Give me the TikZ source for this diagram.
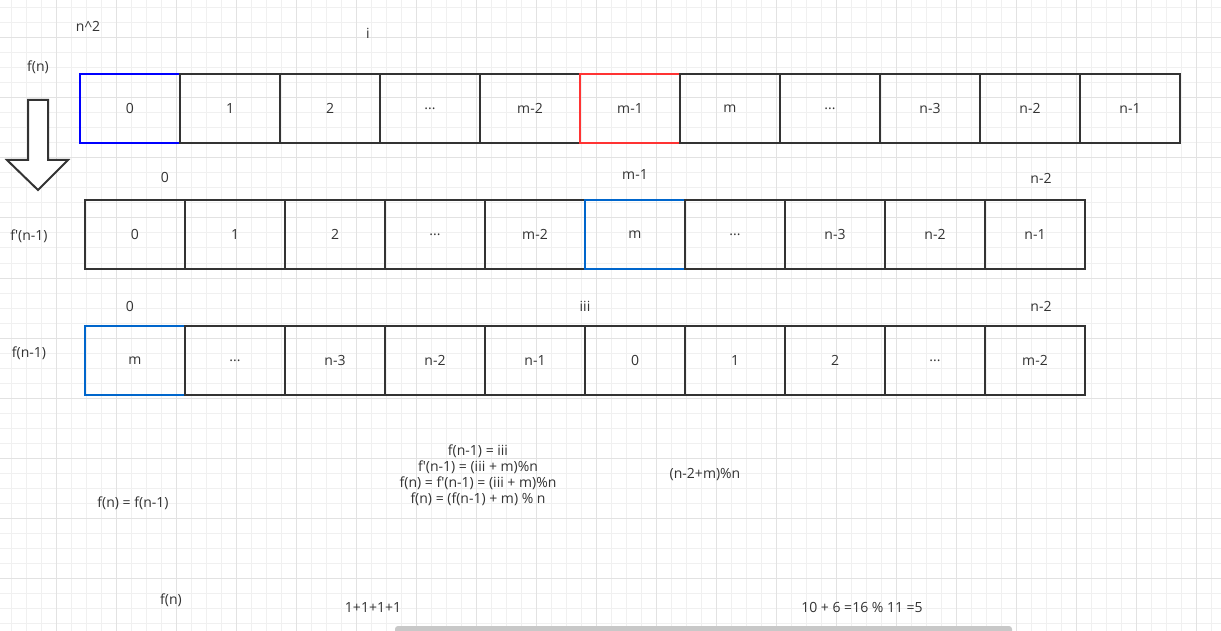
\documentclass[tikz,border=0pt]{standalone}
\usepackage{fontspec}
\setmainfont{Open Sans}
\usetikzlibrary{positioning}
\definecolor{ink}{HTML}{333333}
\definecolor{gridminor}{HTML}{F0F0F0}
\definecolor{gridmajor}{HTML}{E2E2E2}
\definecolor{hlblue}{HTML}{0000FF}
\definecolor{hlsky}{HTML}{0066CC}
\definecolor{hlred}{HTML}{FF3333}
\definecolor{scroll}{HTML}{C8C8C8}
\tikzset{
  cell/.style={draw=ink, line width=2pt, minimum width=100pt, minimum height=69pt,
    inner sep=0pt, outer sep=0pt, text=ink, font=\fontsize{14}{16}\selectfont},
  lbl/.style={text=ink, inner sep=0pt, font=\fontsize{14}{16}\selectfont},
}

\begin{document}
\begin{tikzpicture}[x=1pt, y=-1pt]

\useasboundingbox (0,0) rectangle (1221,631);
\fill[white] (0,0) rectangle (1221,631);

% ======================================
% GRID
% ======================================
\foreach \x in {11,26,...,1221} \draw[gridminor, line width=1pt] (\x,0) -- (\x,631);
\foreach \y in {8,23,...,631} \draw[gridminor, line width=1pt] (0,\y) -- (1221,\y);
\foreach \x in {56,116,...,1221} \draw[gridmajor, line width=1pt] (\x,0) -- (\x,631);
\foreach \y in {38,98,...,631} \draw[gridmajor, line width=1pt] (0,\y) -- (1221,\y);

% ======================================
% ROW 1: f(n)
% ======================================
\node[cell, draw=hlblue] (a0) at (130,108.5) {0};
\node[cell, right=0pt of a0] (a1) {1};
\node[cell, right=0pt of a1] (a2) {2};
\node[cell, right=0pt of a2] (a3) {...};
\node[cell, right=0pt of a3] (a4) {m-2};
\node[cell, draw=hlred, right=0pt of a4] (a5) {m-1};
\node[cell, right=0pt of a5] (a6) {m};
\node[cell, right=0pt of a6] (a7) {...};
\node[cell, right=0pt of a7] (a8) {n-3};
\node[cell, right=0pt of a8] (a9) {n-2};
\node[cell, right=0pt of a9] (a10) {n-1};

\node[lbl] (nsq) at (88,26) {n\textasciicircum 2};
\node[lbl] (idx) at (368,33) {i};
\node[lbl] (fn) at (38,67) {f(n)};

% the hollow down arrow
\draw[ink, line width=2pt, fill=white] (28,100) -- (48,100) -- (48,160) -- (68,160)
  -- (38,190) -- (7,160) -- (28,160) -- cycle;

% ======================================
% ROW 2: f'(n-1)
% ======================================
\node[lbl] (bz) at (165,177) {0};
\node[lbl] (bm) at (635,175) {m-1};
\node[lbl] (bn) at (1041,178) {n-2};
\node[lbl] (fpn) at (29,236) {f\textquotesingle(n-1)};

\node[cell] (b0) at (135,234.5) {0};
\node[cell, right=0pt of b0] (b1) {1};
\node[cell, right=0pt of b1] (b2) {2};
\node[cell, right=0pt of b2] (b3) {...};
\node[cell, right=0pt of b3] (b4) {m-2};
\node[cell, draw=hlsky, right=0pt of b4] (b5) {m};
\node[cell, right=0pt of b5] (b6) {...};
\node[cell, right=0pt of b6] (b7) {n-3};
\node[cell, right=0pt of b7] (b8) {n-2};
\node[cell, right=0pt of b8] (b9) {n-1};

% ======================================
% ROW 3: f(n-1)
% ======================================
\node[lbl] (cz) at (130,306) {0};
\node[lbl] (ci) at (585,306) {iii};
\node[lbl] (cn) at (1041,306) {n-2};
\node[lbl] (fn1) at (29,353) {f(n-1)};

\node[cell, draw=hlsky] (c0) at (135,360.5) {m};
\node[cell, right=0pt of c0] (c1) {...};
\node[cell, right=0pt of c1] (c2) {n-3};
\node[cell, right=0pt of c2] (c3) {n-2};
\node[cell, right=0pt of c3] (c4) {n-1};
\node[cell, right=0pt of c4] (c5) {0};
\node[cell, right=0pt of c5] (c6) {1};
\node[cell, right=0pt of c6] (c7) {2};
\node[cell, right=0pt of c7] (c8) {...};
\node[cell, right=0pt of c8] (c9) {m-2};

% ======================================
% NOTES
% ======================================
\node[lbl, align=center, font=\fontsize{14}{16}\selectfont] (eqs) at (478,475)
  {f(n-1) = iii\\ f\textquotesingle(n-1) = (iii + m)\%n\\
   f(n) = f\textquotesingle(n-1) = (iii + m)\%n\\ f(n) = (f(n-1) + m) \% n};
\node[lbl] (mod) at (705,475) {(n-2+m)\%n};
\node[lbl] (feq) at (133,503) {f(n) = f(n-1)};
\node[lbl] (fnb) at (171,600) {f(n)};
\node[lbl] (ones) at (373,607) {1+1+1+1};
\node[lbl] (sum) at (862,607) {10 + 6 =16 \% 11 =5};

% scroll bar
\fill[scroll, rounded corners=3pt] (395,626) rectangle (1012,634);

\end{tikzpicture}
\end{document}
